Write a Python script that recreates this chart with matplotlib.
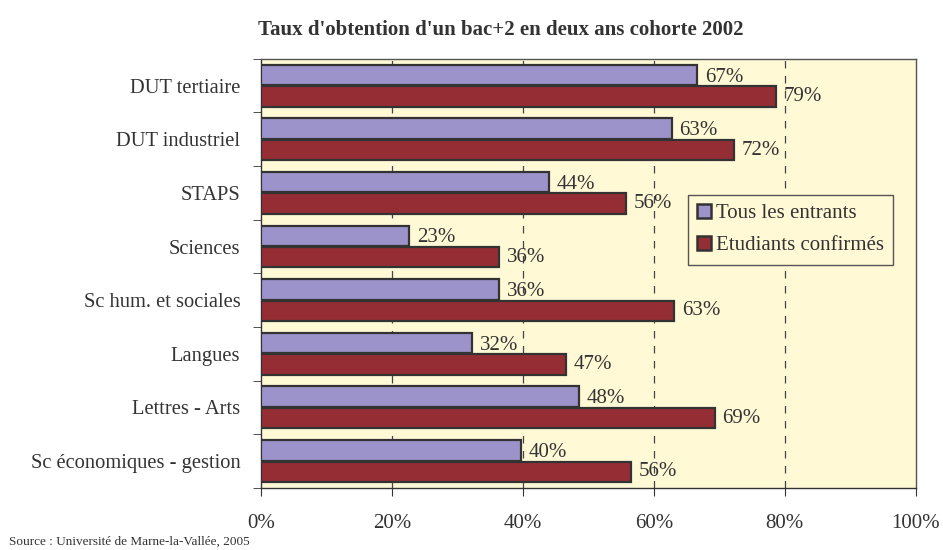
import numpy as np
import matplotlib.pyplot as plt

plt.rcParams['font.family'] = ['Liberation Serif', 'DejaVu Serif']

# data, top to bottom as in the chart
categories = ['DUT tertiaire', 'DUT industriel', 'STAPS', 'Sciences',
              'Sc hum. et sociales', 'Langues', 'Lettres - Arts',
              'Sc économiques - gestion']
tous = [66.6, 62.7, 44.0, 22.6, 36.3, 32.2, 48.5, 39.7]
confirmes = [78.7, 72.2, 55.7, 36.4, 63.1, 46.6, 69.3, 56.5]
tous_lab = ['67%', '63%', '44%', '23%', '36%', '32%', '48%', '40%']
conf_lab = ['79%', '72%', '56%', '36%', '63%', '47%', '69%', '56%']

purple = '#9b93c9'
red = '#952d35'
edge = '#333333'
txt = '#333333'

fig = plt.figure(figsize=(9.43, 5.5), dpi=100)
ax = fig.add_axes([0.277, 0.113, 0.694, 0.78])
ax.set_facecolor('#fff9d6')

n = len(categories)
y = np.arange(n)[::-1]
h = 0.38
ax.barh(y + h / 2 + 0.01, tous, height=h, color=purple, edgecolor=edge,
        linewidth=1.6, label='Tous les entrants', zorder=3)
ax.barh(y - h / 2 - 0.01, confirmes, height=h, color=red, edgecolor=edge,
        linewidth=1.6, label='Etudiants confirmés', zorder=3)

for i in range(n):
    ax.text(tous[i] + 1.2, y[i] + h / 2 - 0.03, tous_lab[i], va='center',
            ha='left', fontsize=15, color=txt, zorder=4)
    ax.text(confirmes[i] + 1.2, y[i] - h / 2 - 0.01, conf_lab[i], va='center',
            ha='left', fontsize=15, color=txt, zorder=4)

ax.set_xlim(0, 100)
ax.set_ylim(-0.5, n - 0.5)
ax.set_xticks(np.arange(0, 101, 20))
ax.set_xticklabels([f'{v}%' for v in range(0, 101, 20)], fontsize=15,
                   color=txt)
ax.set_yticks(y)
ax.set_yticklabels(categories, fontsize=14.8, color=txt)
ax.tick_params(axis='y', which='major', length=0, pad=15)
ax.set_yticks(np.arange(-0.5, n, 1), minor=True)
ax.tick_params(axis='y', which='minor', length=6, color='#333333')
ax.tick_params(axis='x', length=6, color='#333333', pad=13)

for gx in [20, 40, 60, 80]:
    ax.axvline(gx, color='#444444', linestyle=(0, (6, 6)), linewidth=0.9,
               zorder=1)

for s in ax.spines.values():
    s.set_color('#555555')
    s.set_linewidth(1.0)
ax.spines['left'].set_color('#333333')
ax.spines['bottom'].set_color('#333333')

leg = ax.legend(loc='upper left', bbox_to_anchor=(0.652, 0.683), fontsize=15,
                frameon=True, fancybox=False, edgecolor='#555555',
                facecolor='#fff9d6', framealpha=1, handlelength=0.65,
                handleheight=0.65, handletextpad=0.25, borderpad=0.45,
                labelspacing=0.6, labelcolor=txt, borderaxespad=0)
leg.get_frame().set_linewidth(1.0)
for p in leg.get_patches():
    p.set_linewidth(1.8)

fig.text(0.531, 0.945, "Taux d'obtention d'un bac+2 en deux ans cohorte 2002",
         ha='center', va='center', fontsize=15, fontweight='bold',
         color=txt)
fig.text(0.01, 0.004, 'Source : Université de Marne-la-Vallée, 2005',
         ha='left', va='bottom', fontsize=9.5, color=txt)

fig.savefig('out.png', dpi=100)
